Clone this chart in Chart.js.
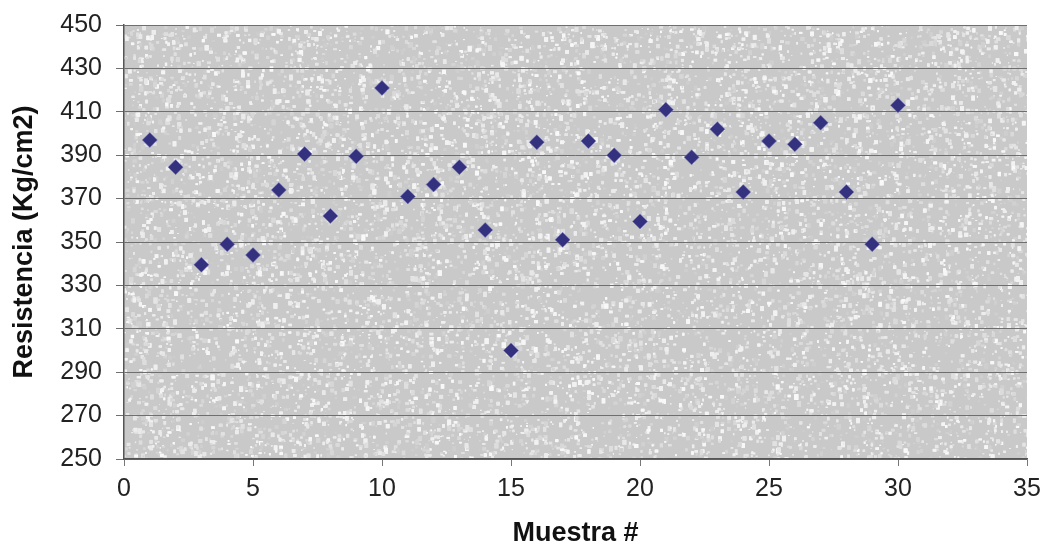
<!DOCTYPE html>
<html>
<head>
<meta charset="utf-8">
<script src="https://cdn.jsdelivr.net/npm/chart.js@4/dist/chart.umd.min.js"></script>
<style>
  html, body { margin: 0; padding: 0; background: #fff; }
  #wrap { width: 1043px; height: 554px; }
</style>
</head>
<body>
<div id="wrap"><canvas id="chart"></canvas></div>
<script>
// sample number and measured strength (Kg/cm2)
const muestras = [1, 2, 3, 4, 5, 6, 7, 8, 9, 10, 11, 12, 13, 14, 15,
                  16, 17, 18, 19, 20, 21, 22, 23, 24, 25, 26, 27, 28, 29, 30];
const resistencia = [397, 384.5, 339.5, 349, 344, 374, 390.5, 362, 389.5, 421,
                     371, 376.5, 384.5, 355.5, 300, 396, 351, 396.5, 390, 359.5,
                     411, 389, 402, 373, 396.5, 395, 405, 373, 349, 413];

const yMin = 250, yMax = 450, yStep = 20;
const xMin = 0, xMax = 35, xStep = 5;

const labelFont = { family: 'Liberation Sans, Arial', size: 25 };
const titleFont = { family: 'Liberation Sans, Arial', size: 27, weight: 'bold' };

// grainy grey fill behind the plot
const plotBackground = {
  id: 'plotBackground',
  beforeDraw(chart) {
    const { ctx, chartArea: a } = chart;
    const w = Math.ceil(a.right - a.left), h = Math.ceil(a.bottom - a.top);
    const off = document.createElement('canvas');
    off.width = w; off.height = h;
    const o = off.getContext('2d');
    o.fillStyle = '#c9c9c9';
    o.fillRect(0, 0, w, h);
    let seed = 12345;
    const next = () => { seed = (seed * 1103515245 + 12345) & 0x7fffffff; return seed / 0x7fffffff; };
    for (let i = 0; i < 30000; i++) {
      const x = next() * w;
      const y = next() * h;
      const s = 1 + next() * 3;
      const shade = 205 + Math.floor(next() * 45);
      o.fillStyle = `rgb(${shade},${shade},${shade})`;
      o.fillRect(x, y, s, s * (0.5 + next()));
    }
    ctx.save();
    ctx.filter = 'blur(0.7px)';
    ctx.drawImage(off, a.left, a.top);
    ctx.restore();
  }
};

new Chart(document.getElementById('chart'), {
  type: 'scatter',
  data: {
    datasets: [{
      data: muestras.map((m, i) => ({ x: m, y: resistencia[i] })),
      pointStyle: 'rectRot',
      pointRadius: 7.5,
      pointBackgroundColor: '#34317e',
      pointBorderColor: 'rgba(120,120,200,0.5)',
      pointBorderWidth: 1
    }]
  },
  options: {
    responsive: true,
    maintainAspectRatio: false,
    animation: false,
    layout: { padding: { top: 25, right: 16, left: 0, bottom: 0 } },
    plugins: { legend: { display: false }, tooltip: { enabled: false } },
    scales: {
      x: {
        type: 'linear',
        min: xMin, max: xMax,
        ticks: { stepSize: xStep, color: '#222', font: labelFont, padding: 8 },
        grid: { display: true, drawOnChartArea: false, drawTicks: true, tickLength: 7, color: '#777' },
        border: { color: '#555', width: 1.5 },
        title: {
          display: true, text: 'Muestra #', color: '#111',
          font: titleFont,
          padding: { top: 20 }
        },
        afterFit(scale) {
          scale.height = 95;
          scale.paddingLeft = 0;
          scale.paddingRight = 0;
        }
      },
      y: {
        min: yMin, max: yMax,
        ticks: { stepSize: yStep, color: '#222', font: labelFont, padding: 14 },
        grid: { color: '#6f6f6f', lineWidth: 1, tickLength: 8 },
        border: { color: '#555', width: 1.5 },
        title: {
          display: true, text: 'Resistencia (Kg/cm2)', color: '#111',
          font: titleFont,
          padding: { top: 8, bottom: 0 }
        },
        afterFit(scale) {
          scale.width = 124;
          scale.paddingTop = 0;
          scale.paddingBottom = 0;
        }
      }
    }
  },
  plugins: [plotBackground]
});
</script>
</body>
</html>
